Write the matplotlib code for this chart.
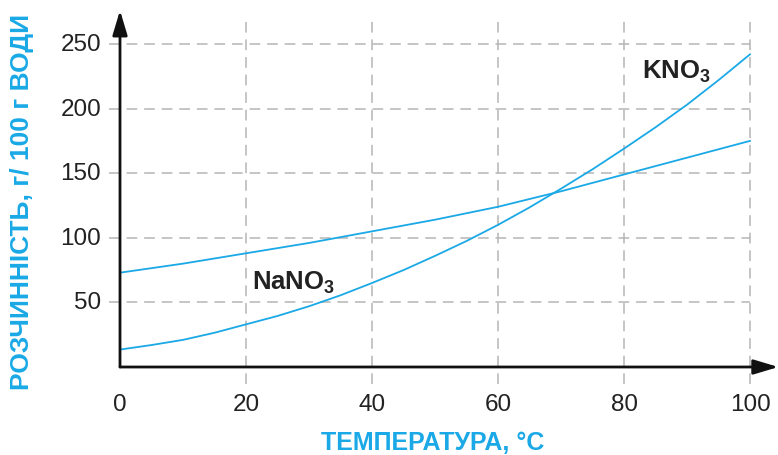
import matplotlib
matplotlib.use("Agg")
import matplotlib.pyplot as plt

plt.rcParams['font.family'] = ['Liberation Sans', 'DejaVu Sans']
plt.rcParams['mathtext.fontset'] = 'custom'
plt.rcParams['mathtext.rm'] = 'Liberation Sans:bold'
plt.rcParams['mathtext.bf'] = 'Liberation Sans:bold'

temps = [0, 5, 10, 15, 20, 25, 30, 35, 40, 45, 50, 55, 60, 65, 70, 75, 80, 85, 90, 95, 100]
kno3 = [13.5, 17, 21, 26.5, 33, 39.5, 47, 55.5, 65, 75, 86, 97.5, 110, 123.5, 138, 153, 169,
        185.5, 203, 222, 242]
nano3 = [73, 76.5, 80, 84, 88, 92, 96, 100.5, 105, 109.5, 114, 119, 124, 130, 136, 142.5, 149,
         155.5, 162, 168.5, 175]
x_ticks = [0, 20, 40, 60, 80, 100]
y_ticks = [50, 100, 150, 200, 250]
x_label = "ТЕМПЕРАТУРА, °C"
y_label = "РОЗЧИННІСТЬ, г/ 100 г ВОДИ"

blue = '#1aa9e6'
grid_c = '#b5b5b5'
txt_c = '#222222'

fig = plt.figure(figsize=(7.78, 4.56), dpi=100)
ax = fig.add_axes([107.4 / 778, (456 - 384.8) / 456, (778.35 - 107.4) / 778, (384.8 - 10.1) / 456])
ax.set_xlim(-2, 104.5)
ax.set_ylim(-13, 277)
ax.axis('off')

dash = (0, (7, 4.5))
for yv in y_ticks:
    ax.plot([-1.7, 100], [yv, yv], color=grid_c, lw=1.1, ls=dash, zorder=1)
for xv in x_ticks[1:]:
    ax.plot([xv, xv], [-13, 271], color=grid_c, lw=1.1, ls=dash, zorder=1)

ax.plot(temps, kno3, color=blue, lw=1.3, zorder=3)
ax.plot(temps, nano3, color=blue, lw=1.3, zorder=3)

# axes with arrows
arrow_kw = dict(arrowstyle='-|>,head_length=1.5,head_width=0.45', color='#111111', lw=2.0,
                shrinkA=0, shrinkB=0)
ax.annotate('', xy=(104.5, 0), xytext=(0, 0), arrowprops=arrow_kw, zorder=4)
ax.annotate('', xy=(0, 276), xytext=(0, 0), arrowprops=arrow_kw, zorder=4)

for xv in x_ticks:
    ax.text(xv, -20, str(xv), ha='center', va='top', fontsize=17.5, color=txt_c)
for yv in y_ticks:
    ax.text(-3.0, yv, str(yv), ha='right', va='center', fontsize=17.5, color=txt_c)

ax.text(27.5, 66, r'$\mathbf{NaNO_3}$', ha='center', va='center', fontsize=18.5, color=txt_c)
ax.text(88.3, 229, r'$\mathbf{KNO_3}$', ha='center', va='center', fontsize=18.5, color=txt_c)

fig.text(433 / 778, 1 - 443 / 456, x_label, ha='center', va='center', fontsize=18,
         fontweight='bold', color=blue)
fig.text(22 / 778, 1 - 202 / 456, y_label, ha='center', va='center', fontsize=19,
         fontweight='bold', color=blue, rotation=90)

fig.savefig('out.png', dpi=100)
